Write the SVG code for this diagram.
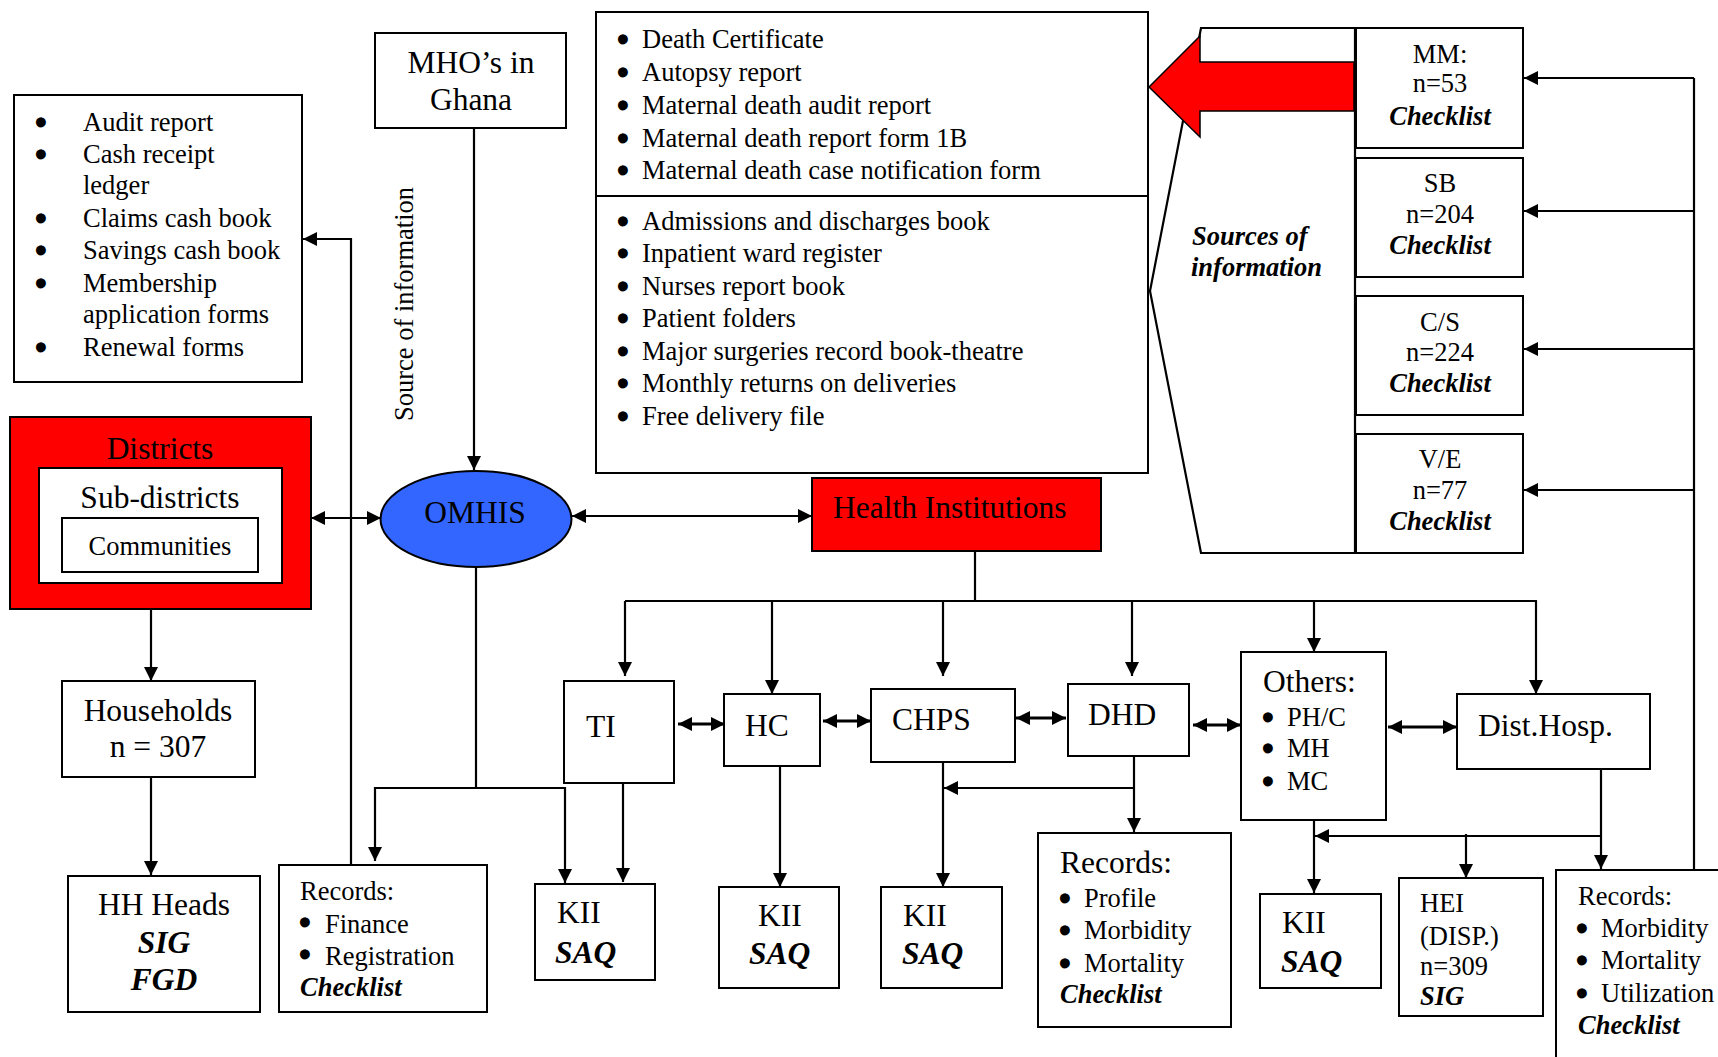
<svg xmlns="http://www.w3.org/2000/svg" width="1718" height="1057" viewBox="0 0 1718 1057">
<defs>
<style>
text { font-family: "Liberation Serif", "Times New Roman", serif; fill: #000; }
.s { font-size: 26.5px; }
.l { font-size: 31.5px; }
.bi { font-weight: bold; font-style: italic; }
.mid { text-anchor: middle; }
.b { font-size: 26.5px; text-anchor: middle; stroke: #000; stroke-width: 3.6; stroke-linejoin: round; }
.box { fill: #fff; stroke: #000; stroke-width: 2; }
.red { fill: #ff0000; stroke: #000; stroke-width: 2; }
.ln { fill: none; stroke: #000; stroke-width: 2.2; }
.dbl { fill: none; stroke: #000; stroke-width: 3.2; }
</style>
<marker id="ah" viewBox="0 0 14 14" markerWidth="14" markerHeight="14" refX="14" refY="7" orient="auto-start-reverse" markerUnits="userSpaceOnUse">
<path d="M0,0 L14,7 L0,14 z" fill="#000"/>
</marker>
</defs>
<rect width="1718" height="1057" fill="#fff"/>

<!-- connectors -->
<g id="connectors">
<line class="ln" x1="474" y1="128" x2="474" y2="470" marker-end="url(#ah)"/>
<line class="ln" x1="311" y1="518" x2="381" y2="518" marker-start="url(#ah)" marker-end="url(#ah)"/>
<line class="ln" x1="572" y1="516" x2="812" y2="516" marker-start="url(#ah)" marker-end="url(#ah)"/>
<line class="ln" x1="151" y1="609" x2="151" y2="681" marker-end="url(#ah)"/>
<line class="ln" x1="151" y1="777" x2="151" y2="875" marker-end="url(#ah)"/>
<polyline class="ln" points="351,865 351,239 303,239" marker-end="url(#ah)"/>
<line class="ln" x1="476" y1="567" x2="476" y2="788"/>
<polyline class="ln" points="476,788 375,788 375,861" marker-end="url(#ah)"/>
<polyline class="ln" points="476,788 565,788 565,883" marker-end="url(#ah)"/>
<line class="ln" x1="623" y1="783" x2="623" y2="882" marker-end="url(#ah)"/>
<line class="ln" x1="975" y1="551" x2="975" y2="601"/>
<line class="ln" x1="625" y1="601" x2="1537" y2="601"/>
<line class="ln" x1="625" y1="601" x2="625" y2="676" marker-end="url(#ah)"/>
<line class="ln" x1="772" y1="601" x2="772" y2="694" marker-end="url(#ah)"/>
<line class="ln" x1="943" y1="601" x2="943" y2="676" marker-end="url(#ah)"/>
<line class="ln" x1="1132" y1="601" x2="1132" y2="676" marker-end="url(#ah)"/>
<line class="ln" x1="1314" y1="601" x2="1314" y2="652" marker-end="url(#ah)"/>
<line class="ln" x1="1536" y1="601" x2="1536" y2="694" marker-end="url(#ah)"/>
<line class="dbl" x1="678" y1="724" x2="725" y2="724" marker-start="url(#ah)" marker-end="url(#ah)"/>
<line class="dbl" x1="823" y1="721" x2="871" y2="721" marker-start="url(#ah)" marker-end="url(#ah)"/>
<line class="dbl" x1="1016" y1="718" x2="1066" y2="718" marker-start="url(#ah)" marker-end="url(#ah)"/>
<line class="dbl" x1="1193" y1="725" x2="1241" y2="725" marker-start="url(#ah)" marker-end="url(#ah)"/>
<line class="dbl" x1="1388" y1="727" x2="1457" y2="727" marker-start="url(#ah)" marker-end="url(#ah)"/>
<line class="ln" x1="780" y1="766" x2="780" y2="887" marker-end="url(#ah)"/>
<line class="ln" x1="943" y1="762" x2="943" y2="887" marker-end="url(#ah)"/>
<line class="ln" x1="1134" y1="756" x2="1134" y2="832" marker-end="url(#ah)"/>
<line class="ln" x1="1134" y1="788" x2="944" y2="788" marker-end="url(#ah)"/>
<line class="ln" x1="1314" y1="820" x2="1314" y2="893" marker-end="url(#ah)"/>
<line class="ln" x1="1601" y1="769" x2="1601" y2="869" marker-end="url(#ah)"/>
<line class="ln" x1="1601" y1="836" x2="1315" y2="836" marker-end="url(#ah)"/>
<line class="ln" x1="1466" y1="834" x2="1466" y2="878" marker-end="url(#ah)"/>
<line class="ln" x1="1694" y1="78" x2="1694" y2="870"/>
<line class="ln" x1="1694" y1="78" x2="1524" y2="78" marker-end="url(#ah)"/>
<line class="ln" x1="1694" y1="211" x2="1524" y2="211" marker-end="url(#ah)"/>
<line class="ln" x1="1694" y1="349" x2="1524" y2="349" marker-end="url(#ah)"/>
<line class="ln" x1="1694" y1="490" x2="1524" y2="490" marker-end="url(#ah)"/>
</g>

<!-- financial records list -->
<g id="audit">
<rect class="box" x="14" y="95" width="288" height="287"/>
<g class="s">
<text x="41" y="132" class="b">•</text><text x="83" y="131">Audit report</text>
<text x="41" y="164" class="b">•</text><text x="83" y="163">Cash receipt</text>
<text x="83" y="194">ledger</text>
<text x="41" y="228" class="b">•</text><text x="83" y="227">Claims cash book</text>
<text x="41" y="260" class="b">•</text><text x="83" y="259">Savings cash book</text>
<text x="41" y="293" class="b">•</text><text x="83" y="292">Membership</text>
<text x="83" y="323">application forms</text>
<text x="41" y="357" class="b">•</text><text x="83" y="356">Renewal forms</text>
</g>
</g>

<g id="mho">
<rect class="box" x="375" y="33" width="191" height="95"/>
<text class="l mid" x="471" y="73">MHO’s in</text>
<text class="l mid" x="471" y="110">Ghana</text>
</g>

<text id="source-label" class="s" font-size="27" transform="translate(413,421) rotate(-90)">Source of information</text>

<g id="records-list">
<rect class="box" x="596" y="12" width="552" height="461"/>
<line class="ln" x1="596" y1="196" x2="1148" y2="196"/>
<g class="s">
<text x="623" y="49" class="b">•</text><text x="642" y="48">Death Certificate</text>
<text x="623" y="82" class="b">•</text><text x="642" y="81">Autopsy report</text>
<text x="623" y="115" class="b">•</text><text x="642" y="114">Maternal death audit report</text>
<text x="623" y="148" class="b">•</text><text x="642" y="147">Maternal death report form 1B</text>
<text x="623" y="180" class="b">•</text><text x="642" y="179">Maternal death case notification form</text>
<text x="623" y="231" class="b">•</text><text x="642" y="230">Admissions and discharges book</text>
<text x="623" y="263" class="b">•</text><text x="642" y="262">Inpatient ward register</text>
<text x="623" y="296" class="b">•</text><text x="642" y="295">Nurses report book</text>
<text x="623" y="328" class="b">•</text><text x="642" y="327">Patient folders</text>
<text x="623" y="361" class="b">•</text><text x="642" y="360">Major surgeries record book-theatre</text>
<text x="623" y="393" class="b">•</text><text x="642" y="392">Monthly returns on deliveries</text>
<text x="623" y="426" class="b">•</text><text x="642" y="425">Free delivery file</text>
</g>
</g>

<g id="sources">
<polyline class="ln" points="1355,28 1201,28 1150,291 1201,553 1355,553" stroke-width="2"/>
<line class="ln" x1="1355" y1="28" x2="1355" y2="553" stroke-width="2"/>
<polygon points="1149,87 1200,36 1200,62 1354,62 1354,111 1200,111 1200,137" fill="#ff0000" stroke="#000" stroke-width="1.5"/>
<text class="s bi" x="1192" y="245">Sources of</text>
<text class="s bi" x="1191" y="276">information</text>
</g>

<g id="mm">
<rect class="box" x="1356" y="28" width="167" height="120"/>
<text class="s mid" x="1440" y="63">MM:</text>
<text class="s mid" x="1440" y="92">n=53</text>
<text class="s mid bi" x="1440" y="125">Checklist</text>
</g>
<g id="sb">
<rect class="box" x="1356" y="158" width="167" height="119"/>
<text class="s mid" x="1440" y="192">SB</text>
<text class="s mid" x="1440" y="223">n=204</text>
<text class="s mid bi" x="1440" y="254">Checklist</text>
</g>
<g id="cs">
<rect class="box" x="1356" y="296" width="167" height="119"/>
<text class="s mid" x="1440" y="331">C/S</text>
<text class="s mid" x="1440" y="361">n=224</text>
<text class="s mid bi" x="1440" y="392">Checklist</text>
</g>
<g id="ve">
<rect class="box" x="1356" y="434" width="167" height="119"/>
<text class="s mid" x="1440" y="468">V/E</text>
<text class="s mid" x="1440" y="499">n=77</text>
<text class="s mid bi" x="1440" y="530">Checklist</text>
</g>

<g id="districts">
<rect class="red" x="10" y="417" width="301" height="192"/>
<rect class="box" x="39" y="468" width="243" height="115"/>
<rect class="box" x="62" y="518" width="196" height="54"/>
<text class="l mid" x="160" y="459">Districts</text>
<text class="l mid" x="160" y="508">Sub-districts</text>
<text class="s mid" x="160" y="555">Communities</text>
</g>

<g id="omhis">
<ellipse cx="476" cy="519" rx="95.5" ry="48" fill="#3366ff" stroke="#000" stroke-width="2"/>
<text class="l mid" x="475" y="523">OMHIS</text>
</g>

<g id="households">
<rect class="box" x="62" y="681" width="193" height="96"/>
<text class="l mid" x="158" y="721">Households</text>
<text class="l mid" x="158" y="757">n = 307</text>
</g>

<g id="hh-heads">
<rect class="box" x="68" y="876" width="192" height="136"/>
<text class="l mid" x="164" y="915">HH Heads</text>
<text class="l mid bi" x="164" y="953">SIG</text>
<text class="l mid bi" x="164" y="990">FGD</text>
</g>

<g id="records-finance">
<rect class="box" x="279" y="865" width="208" height="147"/>
<g class="s">
<text x="300" y="900">Records:</text>
<text x="305" y="932" class="b">•</text><text x="325" y="933">Finance</text>
<text x="305" y="964" class="b">•</text><text x="325" y="965">Registration</text>
<text x="300" y="996" class="bi">Checklist</text>
</g>
</g>

<g id="health-institutions">
<rect class="red" x="812" y="478" width="289" height="73"/>
<text class="l" x="833" y="518">Health Institutions</text>
</g>

<g id="ti">
<rect class="box" x="564" y="681" width="110" height="102"/>
<text class="l" x="586" y="737">TI</text>
</g>
<g id="hc">
<rect class="box" x="724" y="694" width="96" height="72"/>
<text class="l" x="745" y="736">HC</text>
</g>
<g id="chps">
<rect class="box" x="871" y="689" width="144" height="73"/>
<text class="l" x="892" y="730">CHPS</text>
</g>
<g id="dhd">
<rect class="box" x="1068" y="684" width="121" height="72"/>
<text class="l" x="1088" y="725">DHD</text>
</g>
<g id="others">
<rect class="box" x="1241" y="652" width="145" height="168"/>
<text class="l" x="1263" y="692">Others:</text>
<g class="s">
<text x="1268" y="727" class="b">•</text><text x="1287" y="726">PH/C</text>
<text x="1268" y="758" class="b">•</text><text x="1287" y="757">MH</text>
<text x="1268" y="791" class="b">•</text><text x="1287" y="790">MC</text>
</g>
</g>
<g id="dist-hosp">
<rect class="box" x="1457" y="694" width="193" height="75"/>
<text class="l" x="1478" y="736">Dist.Hosp.</text>
</g>

<g id="kii-ti">
<rect class="box" x="535" y="884" width="120" height="96"/>
<text class="l" x="557" y="923">KII</text>
<text class="l bi" x="555" y="963">SAQ</text>
</g>
<g id="kii-hc">
<rect class="box" x="719" y="887" width="120" height="101"/>
<text class="l" x="758" y="926">KII</text>
<text class="l bi" x="749" y="964">SAQ</text>
</g>
<g id="kii-chps">
<rect class="box" x="881" y="887" width="121" height="101"/>
<text class="l" x="903" y="926">KII</text>
<text class="l bi" x="902" y="964">SAQ</text>
</g>
<g id="records-dhd">
<rect class="box" x="1038" y="833" width="193" height="194"/>
<text class="l" x="1060" y="873">Records:</text>
<g class="s">
<text x="1065" y="908" class="b">•</text><text x="1084" y="907">Profile</text>
<text x="1065" y="940" class="b">•</text><text x="1084" y="939">Morbidity</text>
<text x="1065" y="973" class="b">•</text><text x="1084" y="972">Mortality</text>
<text x="1060" y="1003" class="bi">Checklist</text>
</g>
</g>
<g id="kii-others">
<rect class="box" x="1260" y="894" width="121" height="94"/>
<text class="l" x="1282" y="933">KII</text>
<text class="l bi" x="1281" y="972">SAQ</text>
</g>
<g id="hei">
<rect class="box" x="1399" y="878" width="144" height="138"/>
<g class="s">
<text x="1420" y="912">HEI</text>
<text x="1420" y="945">(DISP.)</text>
<text x="1420" y="975">n=309</text>
<text x="1420" y="1005" class="bi">SIG</text>
</g>
</g>
<g id="records-hosp">
<rect class="box" x="1556" y="870" width="180" height="200"/>
<g class="s">
<text x="1578" y="905">Records:</text>
<text x="1582" y="938" class="b">•</text><text x="1601" y="937">Morbidity</text>
<text x="1582" y="970" class="b">•</text><text x="1601" y="969">Mortality</text>
<text x="1582" y="1003" class="b">•</text><text x="1601" y="1002">Utilization</text>
<text x="1578" y="1034" class="bi">Checklist</text>
</g>
</g>
</svg>
